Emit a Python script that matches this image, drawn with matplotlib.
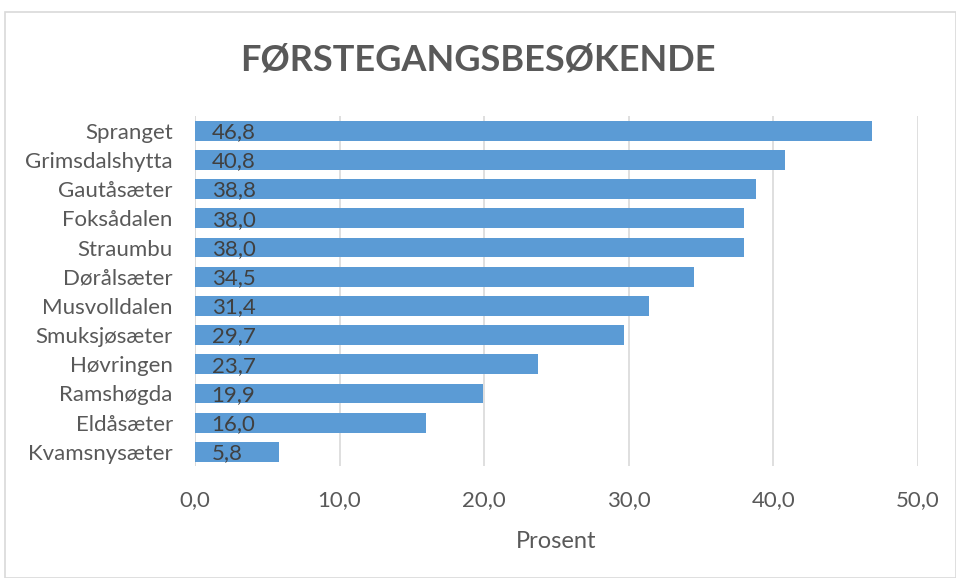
import matplotlib.pyplot as plt
from matplotlib.patches import Rectangle

plt.rcParams['font.family'] = ['Lato', 'DejaVu Sans']

steder = ["Spranget", "Grimsdalshytta", "Gautåsæter", "Foksådalen", "Straumbu",
          "Dørålsæter", "Musvolldalen", "Smuksjøsæter", "Høvringen", "Ramshøgda",
          "Eldåsæter", "Kvamsnysæter"]
prosent = [46.8, 40.8, 38.8, 38.0, 38.0, 34.5, 31.4, 29.7, 23.7, 19.9, 16.0, 5.8]
xticks = [0, 10, 20, 30, 40, 50]

grey = "#595959"
fig = plt.figure(figsize=(9.56, 5.78), dpi=100)
ax = fig.add_axes([0.204, 0.193, 0.756, 0.606])

y = list(range(len(steder)))[::-1]
ax.barh(y, prosent, height=0.68, color="#5B9BD5", zorder=2)
for yi, v in zip(y, prosent):
    ax.annotate(f"{v:.1f}".replace(".", ","), (0, yi), xytext=(12, -1),
                textcoords="offset points", va="center", ha="left",
                fontsize=16, color="#404040", zorder=3)

ax.set_yticks(y)
ax.set_yticklabels(steder, fontsize=16, color=grey)
ax.set_xlim(0, 50)
ax.set_ylim(-0.5, len(steder) - 0.5)
ax.set_xticks(xticks)
ax.set_xticklabels([f"{t:.1f}".replace(".", ",") for t in xticks], fontsize=16, color=grey)
ax.tick_params(axis="y", length=0, pad=16)
ax.tick_params(axis="x", length=0, pad=17)
ax.grid(axis="x", color="#D9D9D9", linewidth=1.2, zorder=0)
for s in ax.spines.values():
    s.set_visible(False)
ax.axvline(0, color="#D9D9D9", linewidth=1.2, zorder=1)
ax.set_xlabel("Prosent", fontsize=17, color=grey, labelpad=15)

fig.suptitle("FØRSTEGANGSBESØKENDE", fontsize=26, fontweight="bold", color=grey, y=0.925)
fig.patches.append(Rectangle((0.005, 0.0), 0.995, 0.98, transform=fig.transFigure,
                             fill=False, edgecolor="#D9D9D9", linewidth=1.2))

fig.savefig("out.png", dpi=100)
